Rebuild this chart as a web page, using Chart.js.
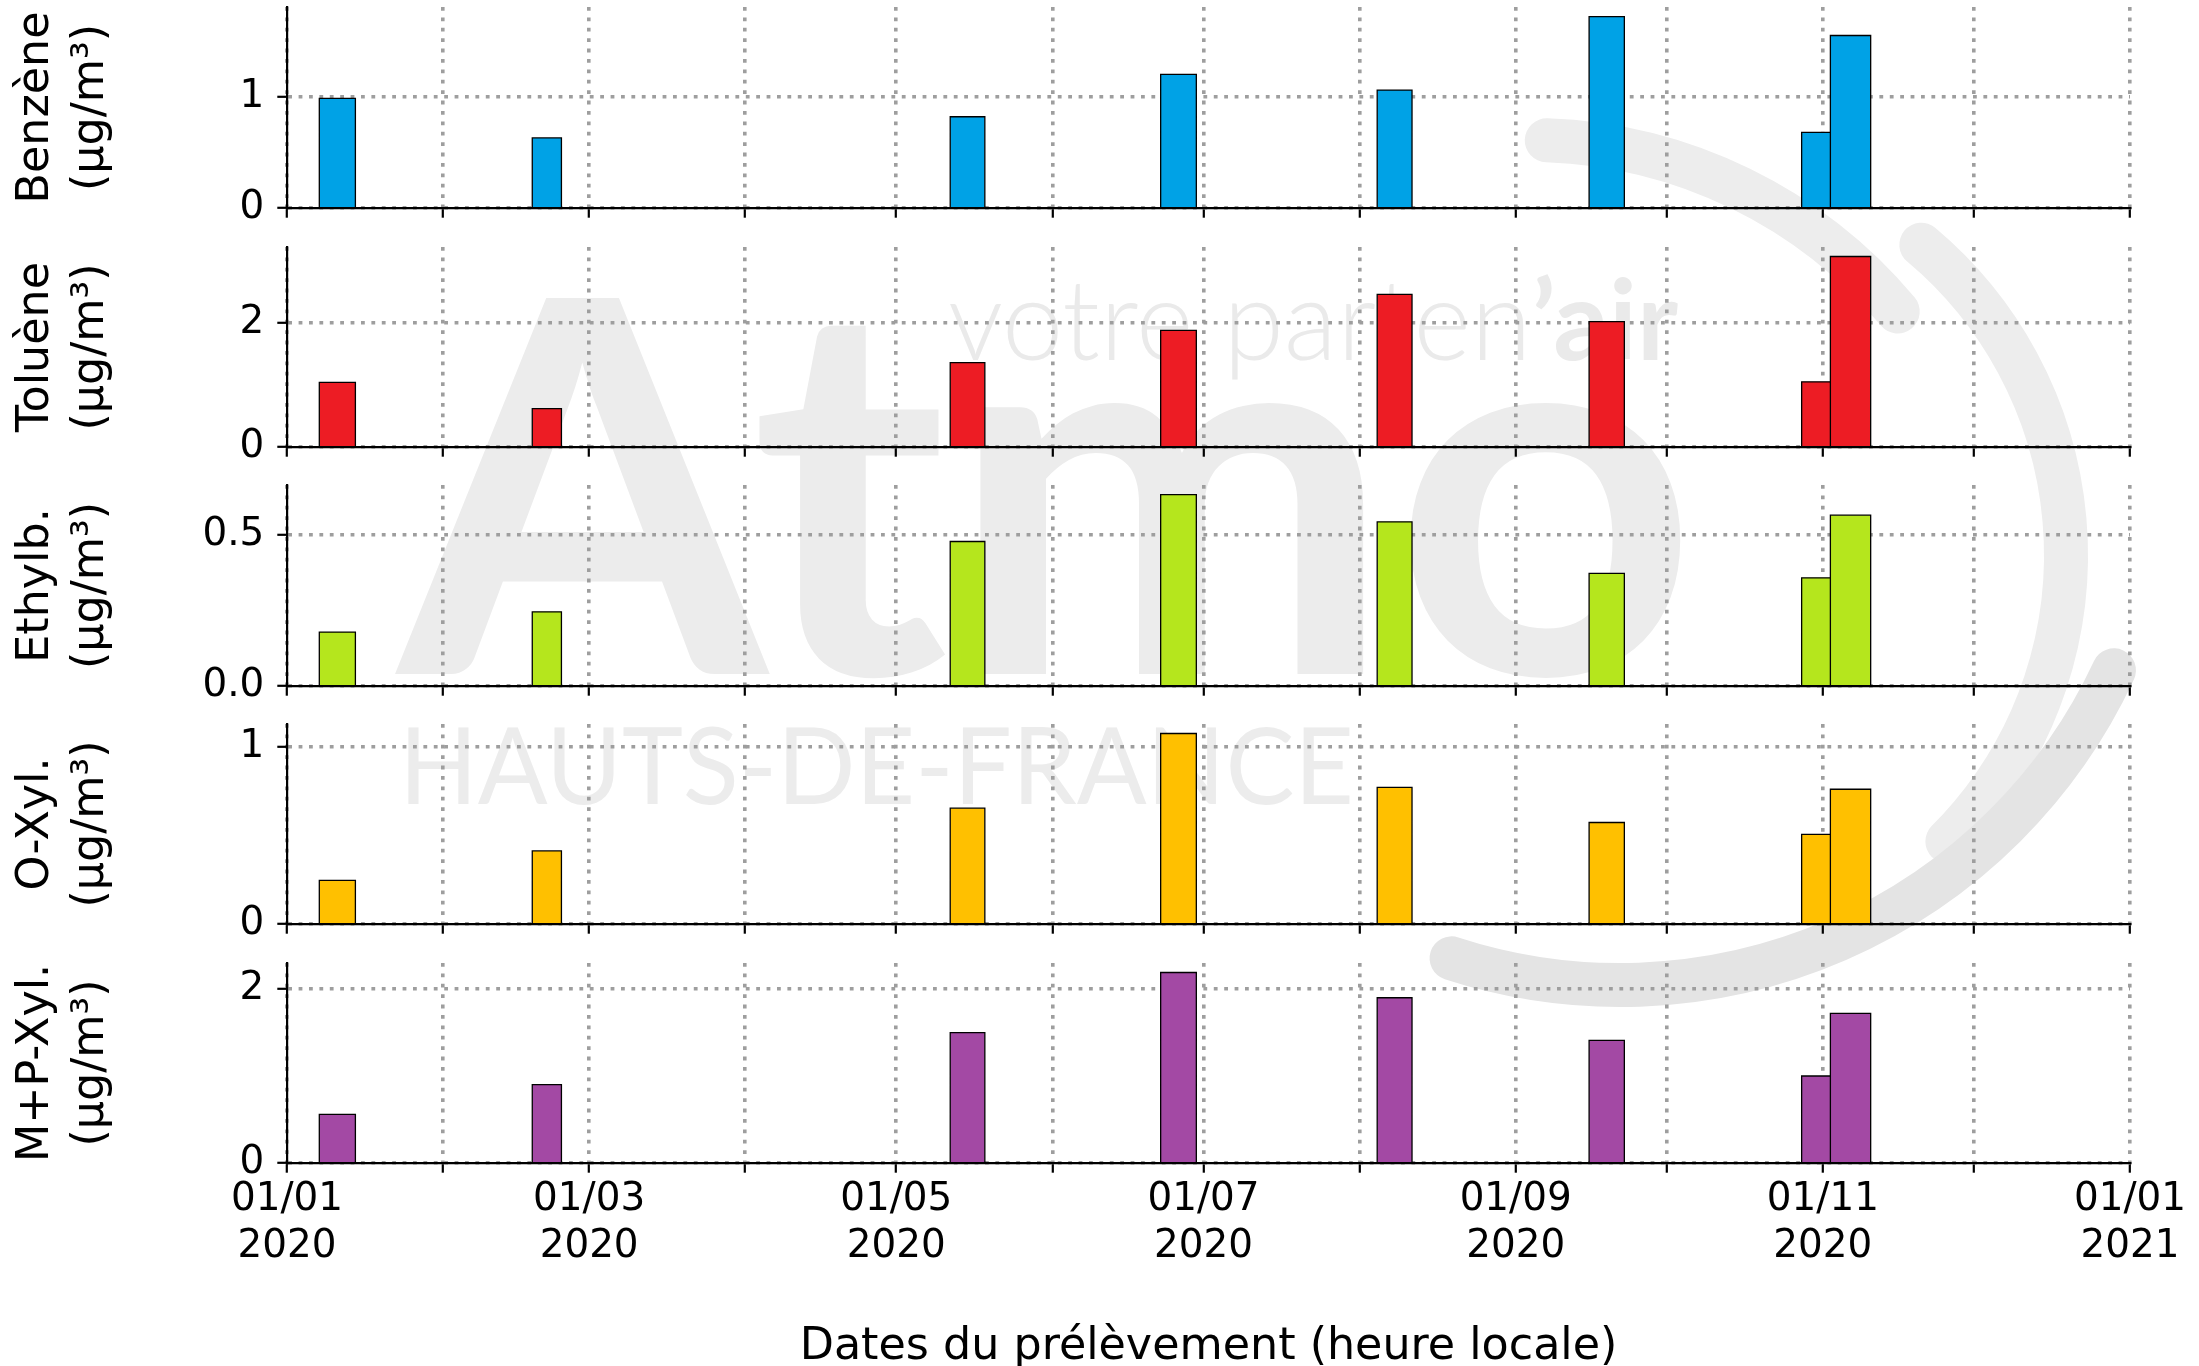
<!DOCTYPE html>
<html>
<head>
<meta charset="utf-8">
<script src="https://cdn.jsdelivr.net/npm/chart.js@4.4.1/dist/chart.umd.min.js"></script>
<style>
  html, body { margin: 0; padding: 0; background: #ffffff; overflow: hidden; width: 2199px; height: 1366px; }
  #wrap { position: relative; width: 2199px; height: 1366px; }
  #wrap canvas { position: absolute; left: 0; }
</style>
</head>
<body>
<div id="wrap">
  <canvas id="bg" width="2199" height="1366" style="top:0;z-index:0"></canvas>
</div>
<script>
// ================= DATA =================
// sampling periods (start / end, UTC)
const sampleStart = ['2020-01-07T10:00', '2020-02-18T17:00', '2020-05-11T17:00', '2020-06-22T12:00',
                     '2020-08-04T12:00', '2020-09-15T14:00', '2020-10-27T19:00', '2020-11-02T12:00'];
const sampleEnd   = ['2020-01-14T14:00', '2020-02-24T12:00', '2020-05-18T14:00', '2020-06-29T14:00',
                     '2020-08-11T10:00', '2020-09-22T14:00', '2020-11-02T12:00', '2020-11-10T12:00'];

// concentrations (µg/m³)
const benzene      = [0.985, 0.63, 0.82, 1.20, 1.06, 1.72, 0.68, 1.55];
const toluene      = [1.04, 0.62, 1.36, 1.88, 2.46, 2.02, 1.05, 3.07];
const ethylbenzene = [0.178, 0.245, 0.477, 0.632, 0.542, 0.372, 0.357, 0.564];
const oXylene      = [0.247, 0.413, 0.655, 1.077, 0.773, 0.574, 0.507, 0.762];
const mpXylene     = [0.56, 0.90, 1.50, 2.19, 1.90, 1.41, 1.00, 1.72];

const seriesNames  = ['Benzène', 'Toluène', 'Ethylb.', 'O-Xyl.', 'M+P-Xyl.'];
const unitLabel    = '(µg/m³)';

// y ticks per panel
const yTickValues = [[0, 1], [0, 2], [0, 0.5], [0, 1], [0, 2]];
const yTickLabels = [['0', '1'], ['0', '2'], ['0.0', '0.5'], ['0', '1'], ['0', '2']];

// x ticks (month starts) and labels
const xTickDates  = ['2020-01-01', '2020-02-01', '2020-03-01', '2020-04-01', '2020-05-01', '2020-06-01', '2020-07-01',
                     '2020-08-01', '2020-09-01', '2020-10-01', '2020-11-01', '2020-12-01', '2021-01-01'];
const xTickLabels = [['01/01', '2020'], '', ['01/03', '2020'], '', ['01/05', '2020'], '', ['01/07', '2020'], '',
                     ['01/09', '2020'], '', ['01/11', '2020'], '', ['01/01', '2021']];
const xAxisTitle  = 'Dates du prélèvement (heure locale)';

// ================= STYLE / LAYOUT =================
const seriesValues = [benzene, toluene, ethylbenzene, oXylene, mpXylene];
const seriesColors = ['#00A2E6', '#ED1C24', '#B5E61D', '#FFC000', '#A349A4'];
const panelTop    = [7, 247, 485, 724, 963];
const panelBottom = [208, 447, 686, 924, 1163];
const CANVAS_W = 2199, AXIS_LEFT = 287, AXIS_RIGHT = 2130, PAD_TOP = 7, PAGE_H = 1366;
const FONT = "'DejaVu Sans', 'Liberation Sans', sans-serif";
const GRID_COLOR = '#9e9e9e';
const GRID_W = 3.6;
const GRID_DASH = [3.8, 6.6];
const TICK_LEN = 9.7;

const toMs = s => Date.parse(s.indexOf('T') > 0 ? s + ':00Z' : s + 'T00:00:00Z');
const xMin = toMs(xTickDates[0]);
const xMax = toMs(xTickDates[xTickDates.length - 1]);

function rectPoints(starts, ends, values) {
  const pts = [];
  for (let i = 0; i < values.length; i++) {
    const s = toMs(starts[i]), e = toMs(ends[i]);
    pts.push({x: s, y: 0}, {x: s, y: values[i]}, {x: e, y: values[i]}, {x: e, y: 0}, {x: e, y: null});
  }
  return pts;
}

// ================= WATERMARK (background logo) =================
(function drawWatermark() {
  const c = document.getElementById('bg').getContext('2d');
  function fitText(parts, x, baseline, targetW, color) {
    let w = 0;
    parts.forEach(p => { c.font = p.font; p.w = c.measureText(p.text).width; w += p.w; });
    c.save();
    c.translate(x, baseline);
    c.scale(targetW / w, 1);
    c.fillStyle = color;
    let cx = 0;
    parts.forEach(p => { c.font = p.font; c.fillText(p.text, cx, 0); cx += p.w; });
    c.restore();
  }
  c.textBaseline = 'alphabetic';
  fitText([{text: 'Atmo', font: "bold 520px Lato, 'Open Sans', sans-serif"}], 398, 674, 1300, '#ececec');
  fitText([{text: 'votre parten', font: "300 112px Lato, 'Open Sans', sans-serif"},
           {text: '\u2019air', font: "bold 112px Lato, 'Open Sans', sans-serif"}], 948, 360, 730, '#eaeaea');
  fitText([{text: 'HAUTS-DE-FRANCE', font: "106px Lato, 'Open Sans', sans-serif"}], 399, 804, 955, '#ececec');
  c.lineCap = 'round';
  c.lineWidth = 44;
  c.strokeStyle = '#ededed';
  const deg = Math.PI / 180;
  c.beginPath(); c.arc(1530, 620, 480, -88 * deg, -40 * deg); c.stroke();
  c.beginPath(); c.arc(1661, 555, 405, -50 * deg, 45 * deg); c.stroke();
  c.strokeStyle = '#e4e4e4';
  c.beginPath(); c.arc(1620, 440, 545, 25 * deg, 108 * deg); c.stroke();
})();

// ================= CHARTS =================
const wrap = document.getElementById('wrap');
seriesValues.forEach((vals, p) => {
  const isLast = p === seriesValues.length - 1;
  const plotH = panelBottom[p] - panelTop[p];
  const xAxisH = isLast ? PAGE_H - panelBottom[p] : 12;
  const canvasH = PAD_TOP + plotH + xAxisH;
  const cv = document.createElement('canvas');
  cv.width = CANVAS_W; cv.height = canvasH;
  cv.style.top = (panelTop[p] - PAD_TOP) + 'px';
  cv.style.zIndex = 1;
  wrap.appendChild(cv);

  const yMaxVal = Math.max(...vals) * 1.05;

  new Chart(cv, {
    type: 'line',
    data: {
      datasets: [{
        label: seriesNames[p],
        data: rectPoints(sampleStart, sampleEnd, vals),
        borderColor: '#000000',
        borderWidth: 1.3,
        backgroundColor: seriesColors[p],
        fill: 'origin',
        pointRadius: 0,
        pointHoverRadius: 0,
        tension: 0,
        spanGaps: false,
        borderJoinStyle: 'miter'
      }]
    },
    options: {
      responsive: false,
      devicePixelRatio: 1,
      animation: false,
      events: [],
      layout: { padding: { top: PAD_TOP, left: 0, right: CANVAS_W - AXIS_RIGHT, bottom: 0 } },
      plugins: { legend: { display: false }, tooltip: { enabled: false } },
      scales: {
        x: {
          type: 'linear',
          min: xMin, max: xMax,
          afterBuildTicks: s => { s.ticks = xTickDates.map(d => ({value: toMs(d)})); },
          afterFit: s => { s.height = xAxisH; s.paddingLeft = 0; s.paddingRight = 0; },
          grid: { color: GRID_COLOR, lineWidth: GRID_W, drawTicks: true, tickLength: TICK_LEN,
                  tickColor: '#000000', tickWidth: 2.2 },
          border: { display: true, color: '#000000', width: 2.2, dash: GRID_DASH, z: 1 },
          ticks: {
            display: isLast, autoSkip: false, maxRotation: 0, minRotation: 0, padding: 4,
            color: '#000000', font: { family: FONT, size: 38.9, lineHeight: 1.2 },
            callback: (v, i) => xTickLabels[i]
          },
          title: {
            display: isLast, text: xAxisTitle, color: '#000000',
            font: { family: FONT, size: 44.4, lineHeight: 0.85 }, padding: { top: 0, bottom: 0 }
          }
        },
        y: {
          type: 'linear',
          min: 0, max: yMaxVal,
          afterBuildTicks: s => { s.ticks = yTickValues[p].map(v => ({value: v})); },
          afterFit: s => { s.width = AXIS_LEFT; s.paddingTop = 0; s.paddingBottom = 0; },
          grid: { color: GRID_COLOR, lineWidth: GRID_W, drawTicks: true, tickLength: TICK_LEN,
                  tickColor: '#000000', tickWidth: 2.2 },
          border: { display: true, color: '#000000', width: 2.2, dash: GRID_DASH, z: 1 },
          ticks: {
            padding: 13, color: '#000000', font: { family: FONT, size: 38.9, lineHeight: 1.2 },
            callback: (v, i) => yTickLabels[p][i]
          },
          title: {
            display: true, text: [seriesNames[p], unitLabel], color: '#000000',
            font: { family: FONT, size: 44.4, lineHeight: 1.24 }, padding: { top: 9, bottom: 0 }
          }
        }
      }
    }
  });
});
</script>
</body>
</html>
